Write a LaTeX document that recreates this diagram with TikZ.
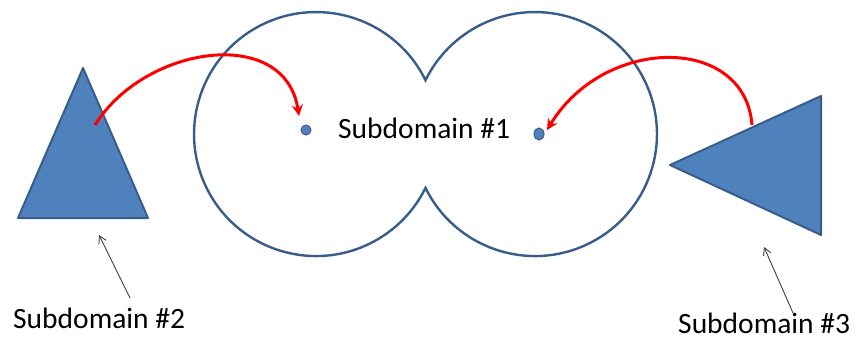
\documentclass[tikz,border=0pt]{standalone}
\usepackage{fontspec}
\setmainfont{Carlito}
\usetikzlibrary{arrows.meta,shapes.geometric}
\definecolor{shapeblue}{RGB}{79,129,189}
\definecolor{edgeblue}{RGB}{56,93,138}
\definecolor{pointer}{RGB}{64,64,64}
\tikzset{
  lbl/.style={inner sep=0pt, font=\fontsize{29.5}{34}\selectfont, text=black},
  domainline/.style={draw=edgeblue, line width=2.4pt},
  tri/.style={draw=edgeblue, line width=2pt, fill=shapeblue, line join=round},
  hop/.style={draw=red, line width=3pt, -{Stealth[length=11pt,width=11pt]}},
  pointarrow/.style={draw=pointer, line width=0.9pt, -{Straight Barb[length=7pt,width=8pt]}},
  dot/.style={ellipse, fill=shapeblue, draw=edgeblue, line width=1pt, inner sep=0pt, minimum width=10pt, minimum height=10pt}
}
\begin{document}
\begin{tikzpicture}[x=1pt,y=-1pt]
\useasboundingbox (0,0) rectangle (856,348);
% subdomain #1 : union of two circles
\coordinate (cuspT) at (425.5,80.2);
\draw[domainline] (cuspT) arc[start angle=-26.2, end angle=-333.8, radius=122]
   arc[start angle=153.8, end angle=-153.8, radius=122] -- cycle;
% dots
\node[dot] (p1) at (306,130) {};
\node[dot, minimum height=12pt] (p2) at (539,134) {};
% triangles
\draw[tri] (83,68) -- (148,218) -- (18,218) -- cycle;
\draw[tri] (670,165) -- (821,96) -- (821,235) -- cycle;
\coordinate (s2) at (95,125);
\coordinate (s3) at (752,125);
\coordinate (t2) at (299,116);
\coordinate (t3) at (547,130);
% labels
\node[lbl, anchor=base west] (l1) at (338,138) {Subdomain \#1};
\node[lbl, anchor=base west] (l2) at (13,328) {Subdomain \#2};
\node[lbl, anchor=base west] (l3) at (678,333) {Subdomain \#3};
% red arrows
\draw[hop] (s2) .. controls (145,45) and (285,25) .. (t2);
\draw[hop] (s3) .. controls (745,35) and (605,35) .. (t3);
% pointer arrows
\coordinate (a2s) at (130,298);
\coordinate (a2e) at (99,235);
\coordinate (a3s) at (793,313);
\coordinate (a3e) at (764,247);
\draw[pointarrow] (a2s) -- (a2e);
\draw[pointarrow] (a3s) -- (a3e);
\end{tikzpicture}
\end{document}
